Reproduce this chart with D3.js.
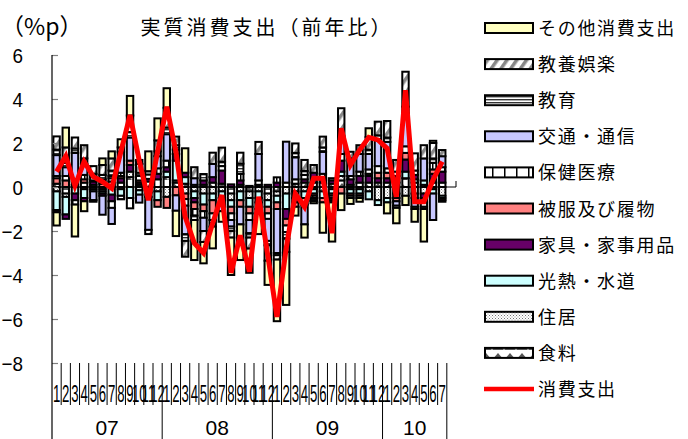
<!DOCTYPE html>
<html>
<head>
<meta charset="utf-8">
<script src="https://cdn.jsdelivr.net/npm/d3@7"></script>
<style>
  html, body { margin: 0; padding: 0; background: #fff; }
  svg { display: block; }
</style>
</head>
<body>
<script>
// Month tick labels (Jan 2007 – Jul 2010) and year group labels
const monthLabels = [
  "1","2","3","4","5","6","7","8","9","10","11","12",
  "1","2","3","4","5","6","7","8","9","10","11","12",
  "1","2","3","4","5","6","7","8","9","10","11","12",
  "1","2","3","4","5","6","7"
];
const yearLabels = ["07", "08", "09", "10"];
const yearMonthCounts = [12, 12, 12, 7];
const yTicks = [-8, -6, -4, -2, 0, 2, 4, 6];

// Contributions by item (%p), stacked in this order away from zero
const food      = [0.15,-0.3,0.1,0.2,0.1,-0.1,0.25,0.2,0.45,0.1, 0.25,0.35,0.45,0.2,0.15,0.1,0.1,0.2,0.15,-0.3, 0.1,-0.2,0.1,-0.3,-0.2,0.2,0.15,0.2,0.2,0.2, 0.15,0.3,0.1,0.2,0.2,0.2,0.2,0.2,0.4,0.2, 0.1,0.2,0.2];
const housing   = [-0.2,-0.15,0.15,-0.1,-0.1,-0.1,0.15,-0.1,0.25,-0.15, -0.1,-0.2,-0.45,0.1,-0.3,-0.2,-0.3,-0.3,-0.2,-0.3, -0.2,-0.3,-0.2,-0.3,-0.2,-0.3,-0.2,-0.2,-0.1,-0.2, -0.1,0.2,-0.1,-0.1,-0.2,-0.6,-0.5,-0.3,-0.4,-0.3, -0.3,-0.1,-0.4];
const utilities = [-0.85,-0.8,-0.3,-0.4,-0.1,-0.1,-0.35,-0.3,-0.5,-0.2, -0.15,-0.4,0.25,0.9,0.3,-0.3,-0.5,-0.3,-0.3,-0.3, -0.4,-0.4,-0.3,-0.3,-0.3,-0.7,-0.3,-0.3,-0.2,-0.3, -0.2,0.2,-0.2,-0.2,-0.36,-0.22,-0.2,-0.2,0.3,0.15, 0.2,-0.2,-0.1];
const furniture = [-0.1,-0.2,-0.3,-0.15,0.15,-0.1,-0.3,0.2,0.3,0.1, 0.12,0.25,0.2,0.3,0.2,-0.2,0.2,0.25,0.6,0.12, 0.2,0.05,-0.2,0.1,0.2,-0.45,-0.2,0.15,0.45,0.2, 0.15,0.5,0.25,0.3,0.3,0.2,0.2,0.3,0.55,0.2, -0.2,0.4,0.5];
const clothing  = [0.25,0.3,0.1,0.15,0.05,0.15,0.1,0.1,0.2,0.1, -0.2,-0.3,-0.5,-0.38,-0.25,-0.3,-0.3,-0.6,-0.3,-0.3, -0.3,-0.3,-0.3,-0.3,-0.3,-0.3,-0.2,-0.3,-0.1,-0.2, -0.1,-0.3,-0.1,-0.1,0.1,0.25,0.25,-0.15,0.3,-0.2, -0.2,0.2,-0.1];
const medical   = [0.1,0.2,-0.2,0.2,0.15,0.2,-0.3,0.15,-0.47,0.2, 0.2,0.25,0.3,0.2,-0.3,-0.3,-0.3,-0.3,0.2,-0.3, 0.3,-0.3,0.2,-0.25,0.24,-0.3,0.2,0.2,-0.1,0.2, -0.1,0.3,0.15,0.2,0.2,0.3,0.2,0.2,0.3,0.2, -0.2,0.3,0.2];
const transport = [0.95,0.4,1.2,0.5,-0.4,-0.86,-0.73,0.95,1.05,-0.36, -1.5,0.55,1.2,-0.7,-1.3,0.3,-0.6,0.6,-0.3,-0.3, -0.8,-0.6,1.2,-1.0,-2.0,1.86,1.0,-0.9,-0.1,1.0, -0.1,0.6,0.8,0.8,0.7,1.2,1.2,-0.2,1.5,-0.4, 1.0,-1.2,0.5];
const education = [0.25,0.2,0.2,0.25,0.15,0.2,0.25,-0.16,0.25,0.15, 0.15,0.22,0.3,0.2,-0.3,-0.2,0.29,-0.3,0.2,-0.2, 0.46,-0.2,-0.2,-0.2,-0.1,-0.3,0.2,0.18,-0.04,0.2, -0.1,0.2,-0.1,-0.1,0.2,0.2,0.2,-0.1,0.3,-0.1, -0.1,0.2,0];
const culture   = [0.6,0.7,0.5,0.6,0.35,0.45,0.55,0.2,0.75,0.4, -0.19,0.5,0.9,0.39,-0.72,0.5,-0.5,0.51,0.64,-0.3, 0.5,-0.5,0.55,-0.7,-0.2,-0.6,0.43,0.5,0.35,0.49, 0.1,1.28,0.3,0.4,0.57,0.62,0.75,0.53,1.59,0.78, 0.6,0.7,0.28];
const other     = [-0.6,0.9,-1.45,-0.45,-0.07,0.3,0.32,0.37,0.89,0.18, 0.9,1.0,0.89,-1.15,1.11,-1.82,-0.97,-0.99,-0.48,-1.7, -1.62,-1.1,-0.94,-1.1,-2.8,-2.41,-0.4,-0.6,-0.1,-1.38, -1.78,-0.75,-0.27,-0.17,0.4,0,-0.5,-0.7,-0.42,-0.58, -1.48,0.1,-0.07];

// Total real consumption expenditure, year-on-year (%)
const total     = [0.7,1.4,0.05,1.15,0.47,0.24,-0.06,1.6,3.27,1.2, -0.6,1.6,3.65,1.6,-1.35,-2.55,-3.0,-1.65,-0.36,-3.9, -2.2,-3.85,-0.44,-3.1,-5.9,-2.8,-0.3,-0.9,0.4,0.4, -2.1,2.67,1.0,1.68,2.26,2.14,1.76,-0.44,4.4,-0.67, -0.67,0.32,1.15];

const series = [
  { key: "food",      name: "食料",           values: food,      fill: "url(#pFood)" },
  { key: "housing",   name: "住居",           values: housing,   fill: "url(#pHousing)" },
  { key: "utilities", name: "光熱・水道",     values: utilities, fill: "#CCFFFF" },
  { key: "furniture", name: "家具・家事用品", values: furniture, fill: "#660066" },
  { key: "clothing",  name: "被服及び履物",   values: clothing,  fill: "#FF8080" },
  { key: "medical",   name: "保健医療",       values: medical,   fill: "url(#pMedical)" },
  { key: "transport", name: "交通・通信",     values: transport, fill: "#C8C8FF" },
  { key: "education", name: "教育",           values: education, fill: "url(#pEdu)" },
  { key: "culture",   name: "教養娯楽",       values: culture,   fill: "url(#pCulture)" },
  { key: "other",     name: "その他消費支出", values: other,     fill: "#FFFFC0" }
];

const W = 688, H = 439;
const svg = d3.select("body").append("svg").attr("width", W).attr("height", H)
  .style("font-family", "'Noto Sans CJK JP', sans-serif");

// ---- fill patterns ----
const defs = svg.append("defs");
function pat(id, w, h, build, transform) {
  const p = defs.append("pattern").attr("id", id).attr("patternUnits", "userSpaceOnUse")
    .attr("width", w).attr("height", h);
  if (transform) p.attr("patternTransform", transform);
  p.append("rect").attr("width", w).attr("height", h).attr("fill", "#fff");
  build(p);
}
pat("pFood", 12, 10, p => p.append("polygon").attr("points", "0,10 6,3 12,10").attr("fill", "#555"));
pat("pHousing", 3, 3, p => {
  p.append("rect").attr("x", 0).attr("y", 0).attr("width", 1).attr("height", 1).attr("fill", "#777");
  p.append("rect").attr("x", 1.5).attr("y", 1.5).attr("width", 1).attr("height", 1).attr("fill", "#999");
});
pat("pMedical", 12, 10, p => p.append("rect").attr("x", 0).attr("width", 1.5).attr("height", 10).attr("fill", "#000"));
pat("pEdu", 3, 3, p => p.append("rect").attr("y", 0).attr("width", 3).attr("height", 1.4).attr("fill", "#333"));
pat("pCulture", 8, 8, p => p.append("rect").attr("x", 0).attr("width", 3.5).attr("height", 8).attr("fill", "#888"), "rotate(35)");

// ---- scales ----
const nSlots = 44; // one trailing empty slot after Jul 2010
const x = d3.scaleBand().domain(d3.range(nSlots)).range([52, 456]).paddingInner(0.3).paddingOuter(0.15);
const step = x.step();
const y = d3.scaleLinear().domain([-8, 6]).range([363, 55]);

// ---- stacked bars (positives up, negatives down) ----
const rows = d3.range(monthLabels.length).map(i => {
  const r = { i };
  series.forEach(s => r[s.key] = s.values[i]);
  return r;
});
const stacked = d3.stack().keys(series.map(s => s.key)).offset(d3.stackOffsetDiverging)(rows);

// zero line
svg.append("line").attr("x1", 52).attr("x2", 456).attr("y1", y(0)).attr("y2", y(0))
  .attr("stroke", "#000").attr("stroke-width", 1);
svg.append("line").attr("x1", 456).attr("x2", 456).attr("y1", y(0) - 6).attr("y2", y(0))
  .attr("stroke", "#000").attr("stroke-width", 1);

const barG = svg.append("g");
stacked.forEach((layer, li) => {
  barG.append("g").selectAll("rect")
    .data(layer.filter(d => d[1] - d[0] !== 0))
    .join("rect")
    .attr("x", d => x(d.data.i))
    .attr("width", x.bandwidth())
    .attr("y", d => y(Math.max(d[0], d[1])))
    .attr("height", d => Math.abs(y(d[0]) - y(d[1])))
    .attr("fill", series[li].fill)
    .attr("stroke", "#000")
    .attr("stroke-width", 2);
});

// total line
const line = d3.line().x((v, i) => x(i) + x.bandwidth() / 2).y(v => y(v));
svg.append("path").datum(total).attr("d", line)
  .attr("fill", "none").attr("stroke", "#FF0000").attr("stroke-width", 5)
  .attr("stroke-linejoin", "miter");

// ---- value axis ----
const yAxis = svg.append("g").attr("transform", "translate(52,0)")
  .call(d3.axisLeft(y).tickValues(yTicks).tickSize(-6).tickFormat(() => ""));
yAxis.select(".domain").remove();
yAxis.selectAll(".tick line").attr("stroke", "#808080").attr("stroke-width", 1.2);
svg.append("g").selectAll("text").data(yTicks).join("text")
  .attr("transform", d => `translate(23,${y(d) + 7.5}) scale(0.9,1)`)
  .attr("text-anchor", "end")
  .attr("font-family", "'Liberation Sans', Arial, sans-serif")
  .attr("font-size", 21)
  .text(d => d3.format("d")(d));
svg.append("line").attr("x1", 52).attr("x2", 52).attr("y1", y(6)).attr("y2", H)
  .attr("stroke", "#000").attr("stroke-width", 1.2);

// ---- category axis (month / year groups) ----
const catTop = y(-8);
const catG = svg.append("g");
const yearEnds = Array.from(d3.cumsum(yearMonthCounts));
d3.range(1, monthLabels.length + 1).forEach(k => {
  const xx = 52 + k * step;
  const isYear = yearEnds.includes(k);
  catG.append("line").attr("x1", xx).attr("x2", xx)
    .attr("y1", catTop).attr("y2", isYear ? H : 405)
    .attr("stroke", "#000").attr("stroke-width", 1);
});
// month labels (condensed)
monthLabels.forEach((m, i) => {
  const cx = x(i) + x.bandwidth() / 2;
  catG.append("text")
    .attr("transform", `translate(${cx},402) scale(0.55,1)`)
    .attr("text-anchor", "middle")
    .attr("font-family", "'Liberation Sans', Arial, sans-serif")
    .attr("font-size", 24)
    .text(m);
});
// year labels
let start = 0;
yearLabels.forEach((yl, j) => {
  const end = start + yearMonthCounts[j];
  const cx = 52 + (start + end) / 2 * step;
  catG.append("text").attr("x", cx).attr("y", 435).attr("text-anchor", "middle")
    .attr("font-family", "'Liberation Sans', Arial, sans-serif")
    .attr("font-size", 21).text(yl);
  start = end;
});

// ---- titles ----
svg.append("text").attr("x", 267).attr("y", 35).attr("text-anchor", "middle")
  .attr("font-size", 20).attr("letter-spacing", 3).text("実質消費支出（前年比）");
svg.append("text").attr("x", 1).attr("y", 35).attr("font-size", 23).text("（%p）");

// ---- legend (outermost series first) ----
const legendItems = series.slice().reverse();
const lg = svg.append("g");
legendItems.forEach((s, k) => {
  const cy = 28 + k * 36.1;
  lg.append("rect").attr("x", 485).attr("y", cy - 5).attr("width", 48).attr("height", 10)
    .attr("fill", s.fill).attr("stroke", "#000").attr("stroke-width", 2);
  lg.append("text").attr("x", 538).attr("y", cy + 7).attr("font-size", 18)
    .attr("letter-spacing", 1.7).text(s.name);
});
const cyLine = 28 + legendItems.length * 36.1;
lg.append("line").attr("x1", 484).attr("x2", 534).attr("y1", cyLine).attr("y2", cyLine)
  .attr("stroke", "#FF0000").attr("stroke-width", 4.5);
lg.append("text").attr("x", 538).attr("y", cyLine + 7).attr("font-size", 18)
  .attr("letter-spacing", 1.7).text("消費支出");
</script>
</body>
</html>
